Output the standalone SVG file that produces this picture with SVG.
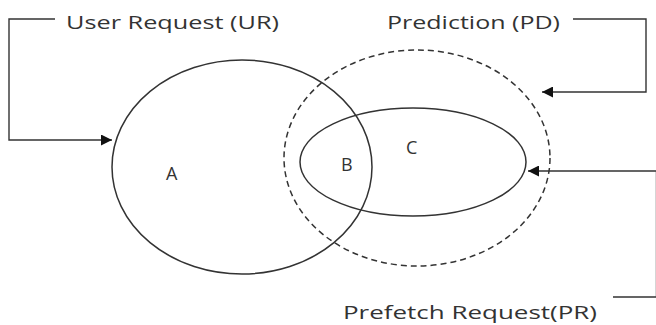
<svg xmlns="http://www.w3.org/2000/svg" width="656" height="325" viewBox="0 0 656 325">
<defs>
<style>
.t{font-family:"Open Sans","Noto Sans",sans-serif;font-size:19px;fill:#333}
.l{font-family:"Open Sans","Noto Sans",sans-serif;font-size:18px;fill:#333}
.s{fill:none;stroke:#333;stroke-width:1.5}
.c{fill:none;stroke:#333;stroke-width:1.4}
</style>
<marker id="ah" viewBox="0 0 10 10" refX="10" refY="5" markerWidth="14" markerHeight="11" markerUnits="userSpaceOnUse" orient="auto">
<path d="M0,0 L10,5 L0,10 Z" fill="#111"/>
</marker>
</defs>
<rect width="656" height="325" fill="#fff"/>
<g id="UR">
<ellipse class="s" cx="242" cy="167" rx="130" ry="107"/>
<text class="t" x="66" y="29" textLength="213" lengthAdjust="spacingAndGlyphs">User Request (UR)</text>
</g>
<g id="PD">
<ellipse class="s" cx="417" cy="158" rx="133" ry="108" stroke-dasharray="6 4"/>
<text class="t" x="387" y="29" textLength="173" lengthAdjust="spacingAndGlyphs">Prediction (PD)</text>
</g>
<g id="PR">
<ellipse class="s" cx="413" cy="162" rx="113" ry="54"/>
<text class="t" x="343" y="319" textLength="254" lengthAdjust="spacingAndGlyphs">Prefetch Request(PR)</text>
</g>
<g id="A"><text class="l" x="166" y="180">A</text></g>
<g id="B"><text class="l" x="341" y="171">B</text></g>
<g id="C"><text class="l" x="406" y="154">C</text></g>
<g id="connectors">
<path class="c" d="M55,19 H9 V140 H112" marker-end="url(#ah)"/>
<path class="c" d="M573,19 H646 V92 H542" marker-end="url(#ah)"/>
<path class="c" d="M613,297 H656.5 V171 H528" marker-end="url(#ah)"/>
</g>
</svg>
